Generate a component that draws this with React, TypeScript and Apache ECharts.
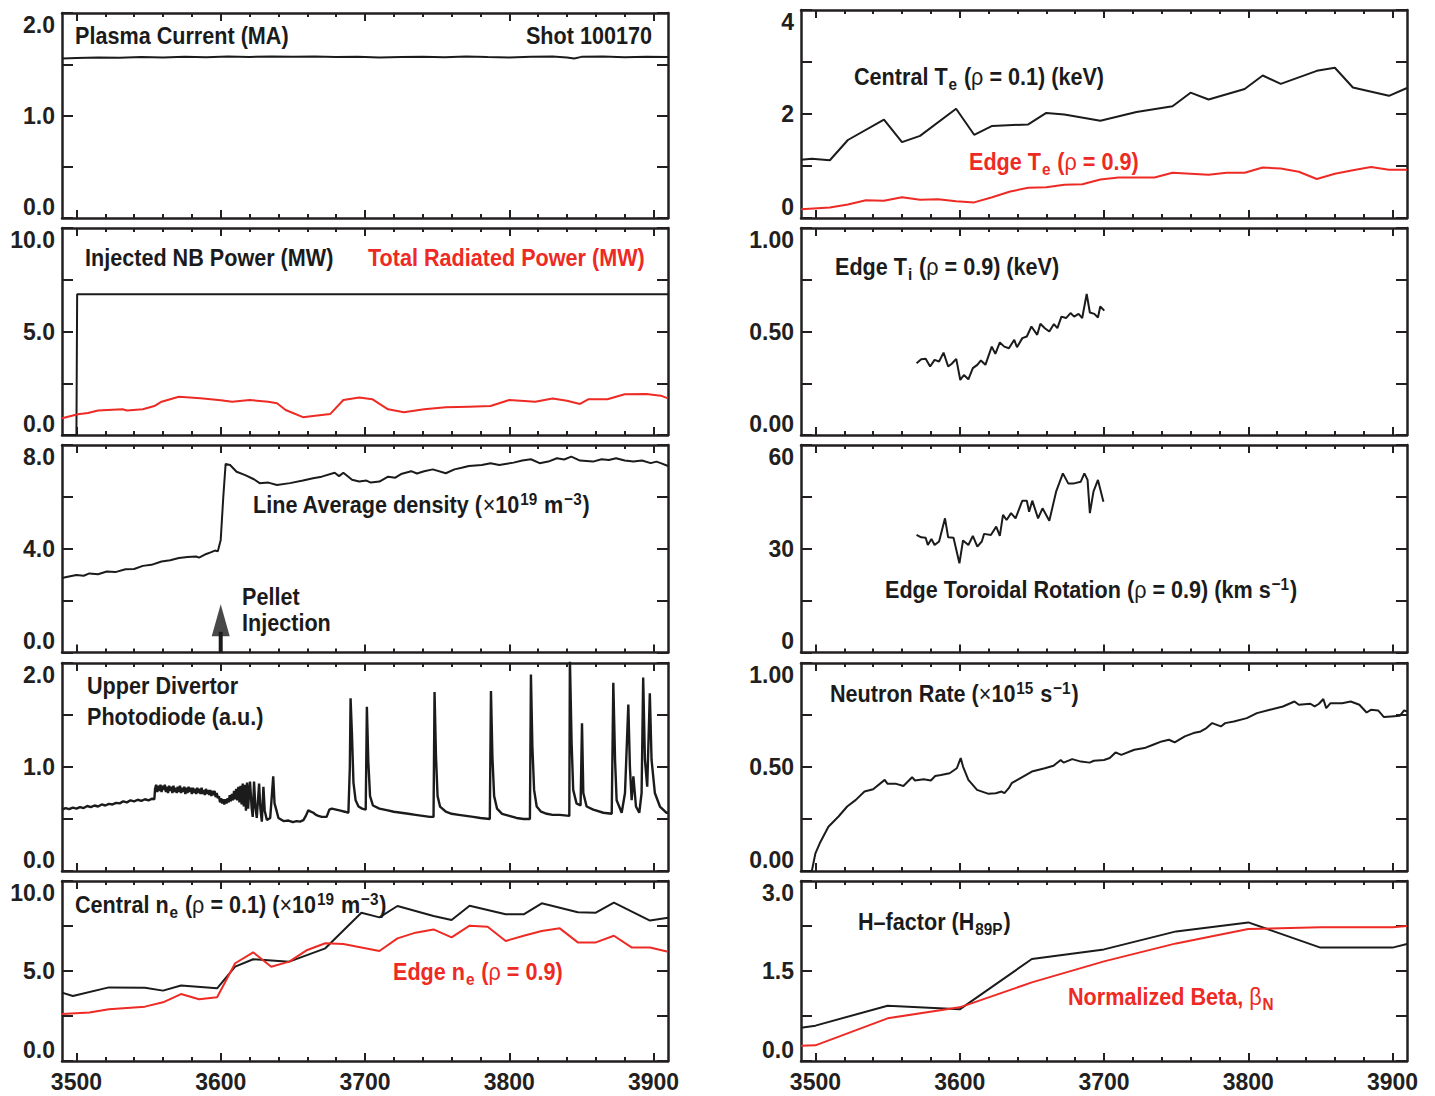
import { useEffect, useRef } from 'react';
import * as echarts from 'echarts';

const X_MIN = 3490;
const X_MAX = 3910;
const X_MAJOR = [3500, 3600, 3700, 3800, 3900];
const X_MINOR = [3520, 3540, 3560, 3580, 3620, 3640, 3660, 3680, 3720, 3740, 3760, 3780, 3820, 3840, 3860, 3880];

const BLACK = '#1b1b1b';
const RED = '#ed2a24';
const FRAME = '#231f20';
const FONT = "'Liberation Sans', Arial, sans-serif";
const TEXT_SCALE = 0.9;

// ---- left column ----
const plasmaCurrent = [
  [3490, 1.555], [3500, 1.562], [3515, 1.566], [3530, 1.564], [3545, 1.57], [3560, 1.567], [3575, 1.572],
  [3590, 1.568], [3605, 1.575], [3620, 1.571], [3635, 1.576], [3650, 1.572], [3665, 1.575], [3680, 1.57],
  [3695, 1.572], [3710, 1.566], [3725, 1.57], [3740, 1.574], [3755, 1.568], [3770, 1.575], [3785, 1.57],
  [3800, 1.566], [3815, 1.572], [3830, 1.575], [3840, 1.566], [3845, 1.556], [3850, 1.572], [3865, 1.575],
  [3880, 1.568], [3895, 1.572], [3910, 1.57],
];

const nbPower = [[3490, 0], [3500, 0], [3500.5, 6.8], [3910, 6.8]];

const radPower = [
  [3490, 0.81], [3501, 1.0], [3508, 1.06], [3515, 1.18], [3525, 1.22], [3532, 1.24], [3535, 1.18], [3546, 1.24],
  [3554, 1.4], [3559, 1.61], [3571, 1.85], [3586, 1.77], [3600, 1.68], [3608, 1.61], [3620, 1.69], [3633, 1.61],
  [3639, 1.53], [3645, 1.21], [3657, 0.86], [3664, 0.92], [3676, 1.02], [3685, 1.69], [3696, 1.81], [3705, 1.73],
  [3716, 1.24], [3727, 1.1], [3741, 1.24], [3756, 1.34], [3772, 1.37], [3787, 1.4], [3800, 1.69], [3818, 1.61],
  [3830, 1.76], [3840, 1.65], [3849, 1.5], [3855, 1.73], [3868, 1.73], [3880, 1.97], [3895, 1.98], [3905, 1.9],
  [3910, 1.77],
];

const lineDensity = [
  [3490, 2.87], [3494, 2.92], [3500, 2.99], [3505, 2.96], [3509, 3.05], [3515, 3.02], [3521, 3.12], [3527, 3.1],
  [3534, 3.21], [3540, 3.22], [3546, 3.34], [3552, 3.38], [3559, 3.51], [3565, 3.56], [3571, 3.64], [3577, 3.68],
  [3583, 3.7], [3585, 3.66], [3590, 3.8], [3593, 3.86], [3596, 3.93], [3598, 3.9], [3600, 4.34], [3601.8, 6.01],
  [3603.4, 7.27], [3606.5, 7.23], [3611, 6.97], [3617, 6.84], [3623, 6.68], [3627, 6.53], [3633, 6.55], [3639, 6.46],
  [3648, 6.53], [3657, 6.63], [3664, 6.72], [3670, 6.78], [3679, 6.93], [3682, 6.8], [3685, 6.93], [3691, 6.66],
  [3696, 6.59], [3701, 6.63], [3704, 6.55], [3710, 6.59], [3716, 6.78], [3721, 6.74], [3725, 6.88], [3732, 6.99],
  [3736, 6.9], [3741, 6.99], [3747, 7.06], [3756, 6.91], [3762, 7.06], [3767, 7.12], [3772, 7.19], [3781, 7.23],
  [3787, 7.3], [3793, 7.23], [3803, 7.32], [3809, 7.4], [3815, 7.45], [3821, 7.3], [3827, 7.36], [3833, 7.49],
  [3838, 7.44], [3843, 7.55], [3849, 7.4], [3858, 7.36], [3864, 7.45], [3869, 7.42], [3874, 7.49], [3880, 7.4],
  [3886, 7.36], [3892, 7.4], [3898, 7.3], [3902, 7.36], [3905, 7.3], [3910, 7.19],
];

const pelletArrow = [[3600, 0], [3600, 0.8]];
const pelletHead = [[3600, 1.24]];

const photodiode = [
  [3490, 0.59], [3492.5, 0.605], [3495, 0.595], [3497.5, 0.61], [3500, 0.6], [3502.5, 0.615], [3505, 0.605],
  [3507.5, 0.625], [3510, 0.615], [3512.5, 0.63], [3515, 0.62], [3517.5, 0.64], [3520, 0.63], [3522.5, 0.645],
  [3525, 0.64], [3527.5, 0.655], [3530, 0.65], [3532.5, 0.67], [3535, 0.66], [3537.5, 0.68], [3540, 0.67],
  [3542.5, 0.685], [3545, 0.675], [3547.5, 0.69], [3550, 0.68], [3552.5, 0.695], [3554, 0.69], [3554.5, 0.79],
  [3555.25, 0.83], [3556, 0.76], [3556.75, 0.82], [3557.5, 0.77], [3558.25, 0.83], [3559, 0.76], [3559.75, 0.82],
  [3560.5, 0.78], [3561.25, 0.83], [3562, 0.76], [3562.75, 0.81], [3563.5, 0.75], [3564.25, 0.82], [3565, 0.77],
  [3565.75, 0.81], [3566.5, 0.75], [3567.25, 0.82], [3568, 0.76], [3568.75, 0.8], [3569.5, 0.75], [3570.25, 0.81],
  [3571, 0.76], [3571.75, 0.82], [3572.5, 0.75], [3573.25, 0.8], [3574, 0.76], [3574.75, 0.81], [3575.5, 0.74],
  [3576.25, 0.8], [3577, 0.75], [3577.75, 0.81], [3578.5, 0.76], [3579.25, 0.8], [3580, 0.74], [3580.75, 0.8],
  [3581.5, 0.75], [3582.25, 0.79], [3583, 0.74], [3583.75, 0.8], [3584.5, 0.75], [3585.25, 0.79], [3586, 0.74],
  [3586.75, 0.8], [3587.5, 0.74], [3588.25, 0.78], [3589, 0.73], [3589.75, 0.79], [3590.5, 0.74], [3591.25, 0.78],
  [3592, 0.73], [3592.75, 0.78], [3593.5, 0.72], [3594.25, 0.77], [3595, 0.73], [3595.75, 0.77], [3596.5, 0.71],
  [3597.25, 0.75], [3598, 0.7], [3598.75, 0.72], [3599.5, 0.66], [3600.25, 0.7], [3601, 0.65], [3601.75, 0.69],
  [3602.5, 0.64], [3603.25, 0.69], [3604, 0.65], [3604.75, 0.7], [3605.5, 0.66], [3606.25, 0.73], [3607, 0.67],
  [3607.75, 0.74], [3608.5, 0.68], [3609.25, 0.77], [3610, 0.69], [3610.75, 0.79], [3611.5, 0.68], [3612.25, 0.81],
  [3613, 0.66], [3613.75, 0.82], [3614.5, 0.64], [3615.25, 0.84], [3616, 0.62], [3616.75, 0.83], [3617.5, 0.58],
  [3618.25, 0.85], [3619, 0.6], [3619.75, 0.78], [3620.3, 0.86], [3621.5, 0.6], [3622.2, 0.52], [3623.1, 0.86],
  [3624, 0.62], [3625, 0.51], [3626.6, 0.84], [3627.5, 0.6], [3628.5, 0.475], [3629.6, 0.81], [3630.5, 0.58],
  [3632, 0.49], [3634.3, 0.51], [3636.4, 0.91], [3637.3, 0.65], [3638.5, 0.59], [3640, 0.51], [3643.5, 0.48],
  [3647, 0.485], [3650, 0.47], [3652.6, 0.48], [3655, 0.475], [3657.3, 0.49], [3659, 0.53], [3660.7, 0.585],
  [3662.5, 0.57], [3664.2, 0.56], [3666, 0.54], [3667.7, 0.53], [3670, 0.52], [3673.4, 0.52], [3675.3, 0.59],
  [3677, 0.6], [3680, 0.59], [3683, 0.58], [3686, 0.57], [3688.5, 0.56], [3689.5, 1.0], [3690, 1.66], [3691, 1.3],
  [3692, 0.85], [3693.5, 0.68], [3695.5, 0.62], [3698, 0.6], [3700.5, 0.59], [3701.3, 1.58], [3702.3, 1.05],
  [3703.5, 0.72], [3705.5, 0.63], [3710, 0.6], [3715, 0.585], [3720, 0.57], [3725, 0.56], [3730, 0.55], [3735, 0.54],
  [3740, 0.53], [3745, 0.52], [3747.5, 0.52], [3748.2, 1.72], [3749.2, 1.1], [3750.3, 0.72], [3752, 0.62], [3756, 0.57],
  [3760, 0.55], [3765, 0.54], [3770, 0.53], [3775, 0.52], [3780, 0.51], [3786.5, 0.5], [3787.3, 1.73], [3788.3, 1.1],
  [3789.5, 0.72], [3791.5, 0.6], [3795, 0.55], [3800, 0.53], [3805, 0.51], [3810, 0.5], [3814.3, 0.5], [3815, 1.89],
  [3816, 1.2], [3817.2, 0.78], [3819, 0.62], [3822, 0.57], [3826, 0.55], [3830, 0.54], [3835, 0.54], [3841.6, 0.53],
  [3842, 2.05], [3843.2, 1.23], [3844.3, 0.78], [3846.6, 0.65], [3849.4, 0.63], [3850.4, 1.42], [3851.3, 0.75],
  [3853.6, 0.62], [3858.2, 0.59], [3865.2, 0.56], [3871, 0.55], [3872.1, 1.81], [3873.3, 1.07], [3874.4, 0.68],
  [3877.9, 0.56], [3880.2, 0.75], [3882.5, 1.6], [3883.6, 1.0], [3884.8, 0.68], [3886, 0.91], [3887.8, 0.62],
  [3890.1, 0.56], [3891.7, 0.75], [3892.8, 1.86], [3894, 1.07], [3895.6, 0.81], [3897.4, 1.71], [3898.6, 1.07],
  [3900.9, 0.75], [3904.4, 0.62], [3909, 0.56], [3910, 0.56],
];

const centralNe = [
  [3490, 3.8], [3497.5, 3.61], [3522.5, 4.09], [3547.5, 4.07], [3560, 3.91], [3572.5, 4.19], [3597.5, 4.04],
  [3610, 5.24], [3622.5, 5.65], [3647.5, 5.52], [3672.5, 6.26], [3697.5, 8.24], [3710, 7.98], [3722.5, 8.61],
  [3747.5, 8.06], [3760, 7.83], [3772.5, 8.63], [3797.5, 8.15], [3810, 8.15], [3822.5, 8.76], [3847.5, 8.26],
  [3860, 8.24], [3872.5, 8.8], [3897.5, 7.8], [3910, 7.96],
];

const edgeNe = [
  [3490, 2.61], [3509, 2.7], [3522.5, 2.87], [3547.5, 3.02], [3560, 3.26], [3572.5, 3.72], [3585, 3.43],
  [3597.5, 3.54], [3610, 5.43], [3622.5, 6.04], [3635, 5.24], [3647.5, 5.52], [3660, 6.17], [3672.5, 6.54],
  [3685, 6.5], [3697.5, 6.31], [3710, 6.11], [3722.5, 6.81], [3735, 7.13], [3747.5, 7.31], [3760, 6.87],
  [3772.5, 7.52], [3785, 7.46], [3797.5, 6.67], [3810, 6.96], [3822.5, 7.22], [3835, 7.37], [3847.5, 6.59],
  [3860, 6.59], [3872.5, 6.96], [3885, 6.3], [3897.5, 6.31], [3910, 6.07],
];

// ---- right column ----
const centralTe = [
  [3490, 1.12], [3497.5, 1.14], [3510, 1.11], [3522.5, 1.5], [3547.5, 1.89], [3560, 1.46], [3572.5, 1.58],
  [3597.5, 2.1], [3610, 1.6], [3622.5, 1.77], [3647.5, 1.8], [3660, 2.02], [3672.5, 1.99], [3697.5, 1.87],
  [3722.5, 2.04], [3747.5, 2.15], [3760, 2.41], [3772.5, 2.28], [3797.5, 2.48], [3810, 2.74], [3822.5, 2.58],
  [3847.5, 2.83], [3860, 2.89], [3872.5, 2.51], [3897.5, 2.35], [3910, 2.5],
];

const edgeTe = [
  [3490, 0.17], [3510, 0.2], [3522.5, 0.26], [3535, 0.34], [3547.5, 0.33], [3560, 0.4], [3572.5, 0.35],
  [3585, 0.36], [3597.5, 0.32], [3610, 0.3], [3622.5, 0.4], [3635, 0.51], [3647.5, 0.58], [3660, 0.59],
  [3672.5, 0.64], [3685, 0.65], [3697.5, 0.74], [3710, 0.78], [3722.5, 0.78], [3735, 0.78], [3747.5, 0.87],
  [3760, 0.85], [3772.5, 0.83], [3785, 0.87], [3797.5, 0.87], [3810, 0.97], [3822.5, 0.95], [3835, 0.89],
  [3847.5, 0.75], [3860, 0.85], [3872.5, 0.92], [3885, 0.98], [3897.5, 0.93], [3910, 0.93],
];

const edgeTi = [
  [3570.1, 0.347], [3573.3, 0.366], [3576.4, 0.368], [3579.5, 0.331], [3582.6, 0.363], [3585.7, 0.355],
  [3588.8, 0.398], [3592, 0.331], [3594.5, 0.344], [3597.6, 0.368], [3600.4, 0.266], [3602.9, 0.29],
  [3606, 0.269], [3609.1, 0.323], [3612.2, 0.339], [3614.7, 0.36], [3617.8, 0.339], [3622.2, 0.427],
  [3624.7, 0.392], [3627.8, 0.447], [3630.9, 0.427], [3634.1, 0.419], [3637.8, 0.46], [3639.7, 0.424],
  [3643.4, 0.468], [3646.5, 0.476], [3649.7, 0.524], [3653.7, 0.484], [3655.9, 0.537], [3659, 0.516],
  [3662.1, 0.5], [3665.3, 0.536], [3667.7, 0.516], [3670.5, 0.572], [3673.7, 0.565], [3676.8, 0.589],
  [3679.3, 0.572], [3682.4, 0.585], [3684.9, 0.565], [3688, 0.681], [3690.2, 0.592], [3693.3, 0.585],
  [3695.8, 0.568], [3697.4, 0.621], [3700.2, 0.601],
];

const edgeRotation = [
  [3570.1, 34.0], [3573.3, 33.3], [3576.4, 33.2], [3577.9, 31.1], [3580.4, 32.8], [3582.6, 31.1], [3585.7, 32.1],
  [3589.8, 38.8], [3592, 33.3], [3595.7, 33.2], [3599.8, 25.8], [3602.3, 32.4], [3606, 31.1], [3609.1, 33.7],
  [3612.2, 30.6], [3615.3, 32.1], [3616.9, 34.3], [3621.6, 34.0], [3625.3, 36.4], [3627.8, 33.7], [3630, 39.8],
  [3632.5, 38.3], [3635.6, 40.3], [3638.7, 38.8], [3643.4, 43.9], [3646.5, 43.9], [3648.1, 40.7], [3650.3, 43.9],
  [3654.3, 38.8], [3657.4, 41.7], [3662.1, 38.1], [3666.8, 46.5], [3671.5, 51.8], [3675.2, 48.9], [3679.3, 48.9],
  [3683.9, 49.4], [3686.4, 51.8], [3688.6, 49.9], [3690.2, 40.3], [3692.7, 46.5], [3695.8, 49.9], [3699.6, 43.6],
];

const neutronRate = [
  [3490, 0], [3497.5, 0], [3500, 0.085], [3503, 0.133], [3509, 0.213], [3516, 0.262], [3522, 0.31], [3528, 0.342],
  [3534, 0.382], [3540, 0.393], [3548, 0.438], [3550, 0.419], [3556, 0.419], [3561, 0.409], [3567, 0.451],
  [3569, 0.435], [3575, 0.441], [3580, 0.435], [3583, 0.457], [3587, 0.462], [3593, 0.47], [3598, 0.494],
  [3600.7, 0.543], [3602.3, 0.502], [3606, 0.438], [3612, 0.39], [3620, 0.371], [3625, 0.374], [3629, 0.382],
  [3631, 0.374], [3634, 0.398], [3636, 0.422], [3640, 0.438], [3650, 0.478], [3659, 0.494], [3665, 0.506],
  [3670, 0.534], [3672, 0.521], [3678, 0.538], [3684, 0.526], [3690, 0.521], [3693, 0.53], [3700, 0.534],
  [3704, 0.543], [3708, 0.57], [3712, 0.558], [3721, 0.583], [3728, 0.591], [3734, 0.607], [3740, 0.623],
  [3745, 0.631], [3749, 0.618], [3756, 0.647], [3762, 0.663], [3767, 0.671], [3771, 0.687], [3775, 0.711],
  [3781, 0.695], [3784, 0.711], [3790, 0.719], [3799, 0.735], [3806, 0.759], [3815, 0.775], [3824, 0.791],
  [3832, 0.815], [3835, 0.799], [3843, 0.804], [3846, 0.791], [3849, 0.804], [3852, 0.827], [3854, 0.783],
  [3857, 0.807], [3865, 0.807], [3871, 0.815], [3877, 0.799], [3882, 0.762], [3885, 0.775], [3890, 0.772],
  [3894, 0.74], [3899, 0.743], [3905, 0.746], [3908, 0.772], [3910, 0.767],
];

const hFactor = [
  [3490, 0.556], [3500, 0.589], [3550, 0.922], [3600, 0.861], [3650, 1.7], [3700, 1.86], [3750, 2.16],
  [3800, 2.31], [3850, 1.89], [3900, 1.89], [3910, 1.95],
];

const betaN = [
  [3490, 0.256], [3500, 0.261], [3550, 0.711], [3600, 0.894], [3650, 1.31], [3700, 1.66], [3750, 1.96],
  [3800, 2.2], [3850, 2.23], [3900, 2.23], [3910, 2.25],
];

// panel frames (pixels) and y scales
const PANEL_WIDTH = 606;
const PANELS = [
  { left: 62, top: 13, bottom: 218, yMax: 2, yStep: 0.5, labelStep: 1, digits: 1, xLabels: false },
  { left: 62, top: 228, bottom: 435, yMax: 10, yStep: 2.5, labelStep: 5, digits: 1, xLabels: false },
  { left: 62, top: 445, bottom: 652.5, yMax: 8, yStep: 2, labelStep: 4, digits: 1, xLabels: false },
  { left: 62, top: 663, bottom: 871, yMax: 2, yStep: 0.5, labelStep: 1, digits: 1, xLabels: false },
  { left: 62, top: 881, bottom: 1061, yMax: 10, yStep: 2.5, labelStep: 5, digits: 1, xLabels: true },
  { left: 801, top: 10, bottom: 218, yMax: 4, yStep: 1, labelStep: 2, digits: 0, xLabels: false },
  { left: 801, top: 228, bottom: 435, yMax: 1, yStep: 0.25, labelStep: 0.5, digits: 2, xLabels: false },
  { left: 801, top: 445, bottom: 652.5, yMax: 60, yStep: 15, labelStep: 30, digits: 0, xLabels: false },
  { left: 801, top: 663, bottom: 871, yMax: 1, yStep: 0.25, labelStep: 0.5, digits: 2, xLabels: false },
  { left: 801, top: 881, bottom: 1061, yMax: 3, yStep: 0.75, labelStep: 1.5, digits: 1, xLabels: true },
];

const labelFont = { fontSize: 23, fontWeight: 'bold', fontFamily: FONT, color: FRAME };

const RICH = {
  n: { fontSize: 24, fontWeight: 'bold', fontFamily: FONT, lineHeight: 28 },
  g: { fontSize: 24, fontWeight: 'normal', fontFamily: FONT, lineHeight: 28 },
  sub: { fontSize: 17, fontWeight: 'bold', fontFamily: FONT, lineHeight: 17, padding: [13, 1, 0, 1] },
  sup: { fontSize: 17, fontWeight: 'bold', fontFamily: FONT, lineHeight: 17, padding: [0, 1, 13, 1] },
};

function label(x: number, y: number, text: string, color = BLACK, align = 'left') {
  return {
    type: 'text',
    x,
    y,
    scaleX: TEXT_SCALE,
    z: 10,
    style: { text, rich: RICH, fill: color, align, verticalAlign: 'middle', font: `bold 24px ${FONT}` },
  };
}

const TEXTS = [
  label(75, 36, '{n|Plasma Current (MA)}'),
  label(652, 36, '{n|Shot 100170}', BLACK, 'right'),
  label(85, 258, '{n|Injected NB Power (MW)}'),
  label(368, 258, '{n|Total Radiated Power (MW)}', RED),
  label(253, 505, '{n|Line Average density (}{g|×}{n|10}{sup|19}{n| m}{sup|−3}{n|)}'),
  label(242, 597, '{n|Pellet}'),
  label(242, 623, '{n|Injection}'),
  label(87, 686, '{n|Upper Divertor}'),
  label(87, 717, '{n|Photodiode (a.u.)}'),
  label(75, 905, '{n|Central n}{sub|e}{n| (}{g|ρ}{n| = 0.1) (}{g|×}{n|10}{sup|19}{n| m}{sup|−3}{n|)}'),
  label(393, 972, '{n|Edge n}{sub|e}{n| (}{g|ρ}{n| = 0.9)}', RED),
  label(854, 77, '{n|Central T}{sub|e}{n| (}{g|ρ}{n| = 0.1) (keV)}'),
  label(969, 162, '{n|Edge T}{sub|e}{n| (}{g|ρ}{n| = 0.9)}', RED),
  label(835, 267, '{n|Edge T}{sub|i}{n| (}{g|ρ}{n| = 0.9) (keV)}'),
  label(885, 590, '{n|Edge Toroidal Rotation (}{g|ρ}{n| = 0.9) (km s}{sup|−1}{n|)}'),
  label(830, 694, '{n|Neutron Rate (}{g|×}{n|10}{sup|15}{n| s}{sup|−1}{n|)}'),
  label(858, 922, '{n|H–factor (H}{sub|89P}{n|)}'),
  label(1068, 997, '{n|Normalized Beta, }{g|β}{sub|N}', RED),
];

function buildOption(): echarts.EChartsOption {
  const grid: any[] = [];
  const xAxis: any[] = [];
  const yAxis: any[] = [];

  PANELS.forEach((p, g) => {
    grid.push({ left: p.left, top: p.top, width: PANEL_WIDTH, height: p.bottom - p.top, outerBoundsMode: 'none' });

    const xBase = {
      type: 'value',
      gridIndex: g,
      min: X_MIN,
      max: X_MAX,
      splitLine: { show: false },
    };
    (['bottom', 'top'] as const).forEach((pos) => {
      xAxis.push({
        ...xBase,
        position: pos,
        axisLine: { show: true, onZero: false, lineStyle: { color: FRAME, width: 2.5 } },
        axisTick: { show: true, inside: true, length: 8, customValues: X_MAJOR, lineStyle: { color: FRAME, width: 2 } },
        axisLabel: {
          show: pos === 'bottom' && p.xLabels,
          customValues: X_MAJOR,
          margin: 9,
          formatter: (v: number) => String(v),
          ...labelFont,
        },
      });
      xAxis.push({
        ...xBase,
        position: pos,
        axisLine: { show: false, onZero: false },
        axisTick: { show: true, inside: true, length: 4, customValues: X_MINOR, lineStyle: { color: FRAME, width: 2 } },
        axisLabel: { show: false },
      });
    });

    const yBase = {
      type: 'value',
      gridIndex: g,
      min: 0,
      max: p.yMax,
      interval: p.yStep,
      splitLine: { show: false },
      axisLine: { show: true, onZero: false, lineStyle: { color: FRAME, width: 2.5 } },
      axisTick: { show: true, inside: true, length: 11, lineStyle: { color: FRAME, width: 2 } },
    };
    yAxis.push({
      ...yBase,
      position: 'left',
      axisLabel: {
        show: true,
        margin: 7,
        verticalAlignMaxLabel: 'top',
        verticalAlignMinLabel: 'bottom',
        formatter: (v: number) => {
          const k = v / p.labelStep;
          return Math.abs(k - Math.round(k)) < 1e-6 ? v.toFixed(p.digits) : '';
        },
        ...labelFont,
      },
    });
    yAxis.push({ ...yBase, position: 'right', axisLabel: { show: false } });
  });

  const line = (data: number[][], g: number, color = BLACK, width = 2) => ({
    type: 'line',
    xAxisIndex: g * 4,
    yAxisIndex: g * 2,
    data,
    symbol: 'none',
    silent: true,
    lineStyle: { color, width },
    itemStyle: { color },
    z: 3,
  });

  const series: any[] = [
    line(plasmaCurrent, 0),
    line(nbPower, 1),
    line(radPower, 1, RED),
    line(lineDensity, 2),
    line(pelletArrow, 2, BLACK, 4),
    {
      type: 'scatter',
      xAxisIndex: 8,
      yAxisIndex: 4,
      data: pelletHead,
      symbol: 'triangle',
      symbolSize: [18, 32],
      itemStyle: { color: BLACK },
      silent: true,
      z: 4,
    },
    line(photodiode, 3, BLACK, 2.4),
    line(centralNe, 4),
    line(edgeNe, 4, RED),
    line(centralTe, 5),
    line(edgeTe, 5, RED),
    line(edgeTi, 6),
    line(edgeRotation, 7),
    line(neutronRate, 8),
    line(hFactor, 9),
    line(betaN, 9, RED),
  ];

  return {
    animation: false,
    backgroundColor: '#ffffff',
    grid,
    xAxis,
    yAxis,
    series,
    graphic: TEXTS as any,
  };
}

export default function App() {
  const chartRef = useRef<HTMLDivElement>(null);

  useEffect(() => {
    if (!chartRef.current) return;
    const chart = echarts.init(chartRef.current, null, { renderer: 'svg' });
    chart.setOption(buildOption());
    return () => {
      chart.dispose();
    };
  }, []);

  return (
    <div
      ref={chartRef}
      style={{ position: 'fixed', left: 0, top: 0, width: '1435px', height: '1096px', background: '#fff' }}
    />
  );
}
